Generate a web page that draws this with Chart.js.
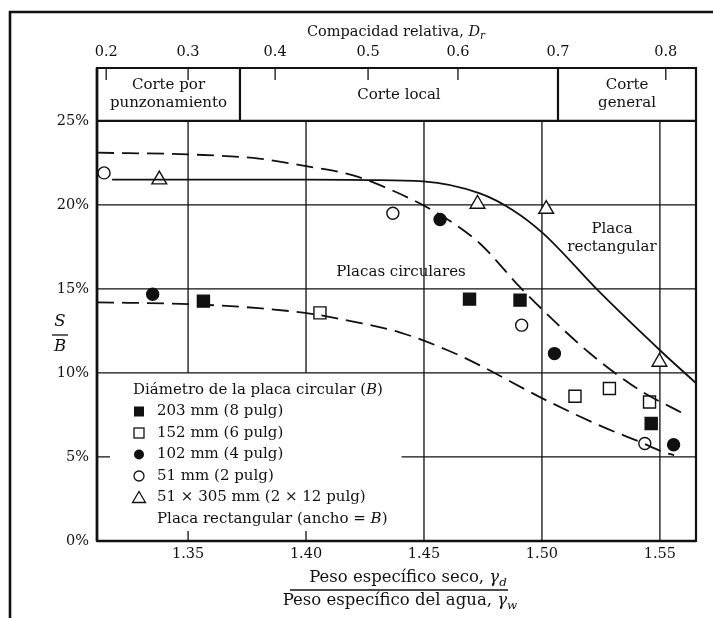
<!DOCTYPE html>
<html>
<head>
<meta charset="utf-8">
<script src="https://cdn.jsdelivr.net/npm/chart.js@4.4.1/dist/chart.umd.min.js"></script>
<style>
  html, body { margin:0; padding:0; background:#fff; }
  #wrap { width:713px; height:618px; }
</style>
</head>
<body>
<div id="wrap"><canvas id="chart" width="713" height="618"></canvas></div>
<script>
// ================= data =================
const xTicks = [1.35, 1.40, 1.45, 1.50, 1.55];
const yTicks = [0, 5, 10, 15, 20, 25];
const xMin = 1.3114, xMax = 1.5653, yMax = 28.14;

// relative density (top axis) and where each tick falls on the unit weight axis
const drLabels = ['0.2', '0.3', '0.4', '0.5', '0.6', '0.7', '0.8'];
const drAt = [1.3153, 1.3500, 1.3869, 1.4263, 1.4644, 1.5068, 1.5525];
const zoneBounds = [1.3720, 1.5068];

// markers
const sq203X = [1.3565, 1.4693, 1.4907, 1.5463];
const sq203Y = [14.27, 14.39, 14.33, 6.99];
const sq152X = [1.4059, 1.5140, 1.5286, 1.5456];
const sq152Y = [13.57, 8.61, 9.07, 8.27];
const ci102X = [1.3350, 1.4568, 1.5053, 1.5558];
const ci102Y = [14.68, 19.13, 11.15, 5.73];
const ci51X = [1.3144, 1.4368, 1.4914, 1.5436];
const ci51Y = [21.9, 19.5, 12.84, 5.8];
const triX = [1.3378, 1.4727, 1.5018, 1.5498];
const triY = [21.5, 20.05, 19.75, 10.65];

// curves
const upperX = [1.3114, 1.35, 1.38, 1.40, 1.42, 1.435, 1.45, 1.462, 1.4737, 1.4907, 1.5003, 1.5203, 1.5415, 1.5597];
const upperY = [23.1, 23.0, 22.75, 22.3, 21.75, 20.95, 19.95, 18.95, 17.7, 15.1, 13.75, 11.17, 8.97, 7.6];
const lowerX = [1.3114, 1.3508, 1.38, 1.403, 1.42, 1.44, 1.46, 1.4737, 1.50, 1.5258, 1.5415, 1.5513, 1.556];
const lowerY = [14.2, 14.09, 13.85, 13.5, 13.05, 12.4, 11.35, 10.45, 8.5, 6.79, 5.9, 5.3, 5.1];
const rectX = [1.3178, 1.40, 1.4271, 1.4497, 1.4737, 1.4877, 1.5005, 1.5245, 1.55, 1.5653];
const rectY = [21.5, 21.5, 21.47, 21.4, 20.68, 19.68, 18.3, 14.8, 11.35, 9.39];

const SERIF = '"DejaVu Serif", serif';
const INK = '#111';

const toPts = (xs, ys) => xs.map((x, i) => ({ x: x, y: ys[i] }));

function curve(xs, ys, dash) {
    return { data: toPts(xs, ys), showLine: true, borderColor: INK, borderWidth: 1.8, borderDash: dash,
             pointRadius: 0, cubicInterpolationMode: 'monotone', fill: false };
}
function marks(xs, ys, style, r, fillCol) {
    return { data: toPts(xs, ys), showLine: false, pointStyle: style, pointRadius: r,
             pointBackgroundColor: fillCol, pointBorderColor: INK, pointBorderWidth: 1.4 };
}

// draw a run of text pieces: [text, 'n' | 'i' | 'sub'] centred (or left aligned) at x
function runText(ctx, parts, x, y, size, align) {
    const fontOf = p => (p[1] === 'n' ? '' : 'italic ') + (p[1] === 'sub' ? size * 0.72 : size) + 'px ' + SERIF;
    const widths = parts.map(p => { ctx.font = fontOf(p); return ctx.measureText(p[0]).width; });
    const total = widths.reduce((a, b) => a + b, 0);
    let cx = align === 'left' ? x : x - total / 2;
    ctx.textBaseline = 'middle';
    ctx.textAlign = 'left';
    parts.forEach((p, i) => {
        ctx.font = fontOf(p);
        ctx.fillText(p[0], cx, p[1] === 'sub' ? y + size * 0.3 : y);
        cx += widths[i];
    });
    return total;
}

const decor = {
    id: 'decor',
    beforeDatasetsDraw(chart) {
        const ctx = chart.ctx, a = chart.chartArea;
        const sx = chart.scales.x, sy = chart.scales.y;
        const X = v => sx.getPixelForValue(v), Y = v => sy.getPixelForValue(v);
        ctx.save();
        ctx.strokeStyle = INK;
        ctx.lineWidth = 1.3;
        ctx.beginPath();
        // horizontal grid
        [10, 15, 20].forEach(v => { ctx.moveTo(a.left, Y(v)); ctx.lineTo(a.right, Y(v)); });
        ctx.moveTo(X(1.4405), Y(5)); ctx.lineTo(a.right, Y(5));
        ctx.moveTo(a.left, Y(5)); ctx.lineTo(a.left + 13, Y(5));
        // vertical grid (left two stop above the legend)
        [1.35, 1.40].forEach(v => {
            ctx.moveTo(X(v), Y(10)); ctx.lineTo(X(v), Y(25));
            ctx.moveTo(X(v), Y(0)); ctx.lineTo(X(v), Y(0) - 10);
        });
        [1.45, 1.50, 1.55].forEach(v => { ctx.moveTo(X(v), Y(0)); ctx.lineTo(X(v), Y(25)); });
        // Dr ticks hanging from the top edge
        drAt.forEach((v, i) => { if (drLabels[i] !== '0.7') { ctx.moveTo(X(v), a.top); ctx.lineTo(X(v), a.top + 12); } });
        ctx.stroke();

        // zone box and frame
        ctx.lineWidth = 2.2;
        ctx.beginPath();
        ctx.moveTo(a.left, Y(25)); ctx.lineTo(a.right, Y(25));
        zoneBounds.forEach(v => { ctx.moveTo(X(v), a.top); ctx.lineTo(X(v), Y(25)); });
        ctx.rect(a.left, a.top, a.right - a.left, a.bottom - a.top);
        ctx.stroke();
        ctx.lineWidth = 2.6;
        ctx.beginPath();
        ctx.moveTo(a.left, a.bottom); ctx.lineTo(a.right, a.bottom);
        ctx.moveTo(a.left, a.top); ctx.lineTo(a.left, a.bottom);
        ctx.stroke();
        ctx.restore();
    },
    afterDatasetsDraw(chart) {
        const ctx = chart.ctx, a = chart.chartArea;
        const sx = chart.scales.x, sy = chart.scales.y;
        const X = v => sx.getPixelForValue(v), Y = v => sy.getPixelForValue(v);
        ctx.save();
        ctx.fillStyle = INK;
        ctx.strokeStyle = INK;
        const fs = 15;

        // zone names
        const mid = (a.top + Y(25)) / 2;
        const zx = [(a.left + X(zoneBounds[0])) / 2, (X(zoneBounds[0]) + X(zoneBounds[1])) / 2, (X(zoneBounds[1]) + a.right) / 2];
        runText(ctx, [['Corte por', 'n']], zx[0], mid - 9, fs);
        runText(ctx, [['punzonamiento', 'n']], zx[0], mid + 9, fs);
        runText(ctx, [['Corte local', 'n']], zx[1], mid + 1, fs);
        runText(ctx, [['Corte', 'n']], zx[2], mid - 9, fs);
        runText(ctx, [['general', 'n']], zx[2], mid + 9, fs);

        // curve labels
        runText(ctx, [['Placas circulares', 'n']], 401, 272, fs);
        runText(ctx, [['Placa', 'n']], 612, 229, fs);
        runText(ctx, [['rectangular', 'n']], 612, 247, fs);

        // legend block
        runText(ctx, [['Diámetro de la placa circular (', 'n'], ['B', 'i'], [')', 'n']], 133, 390, fs, 'left');
        const rows = [411.5, 433, 454.5, 476, 497.5];
        const texts = ['203 mm (8 pulg)', '152 mm (6 pulg)', '102 mm (4 pulg)', '51 mm (2 pulg)', '51 × 305 mm (2 × 12 pulg)'];
        const sxp = 139;
        ctx.lineWidth = 1.3;
        rows.forEach((ry, i) => {
            ctx.beginPath();
            if (i === 0) { ctx.fillRect(sxp - 5, ry - 5, 10, 10); }
            else if (i === 1) { ctx.strokeRect(sxp - 5, ry - 5, 10, 10); }
            else if (i === 2) { ctx.arc(sxp, ry, 5, 0, Math.PI * 2); ctx.fill(); }
            else if (i === 3) { ctx.arc(sxp, ry, 5, 0, Math.PI * 2); ctx.stroke(); }
            else { ctx.moveTo(sxp, ry - 6); ctx.lineTo(sxp + 6.5, ry + 5); ctx.lineTo(sxp - 6.5, ry + 5); ctx.closePath(); ctx.stroke(); }
            runText(ctx, [[texts[i], 'n']], 157, ry, fs, 'left');
        });
        runText(ctx, [['Placa rectangular (ancho = ', 'n'], ['B', 'i'], [')', 'n']], 157, 519, fs, 'left');

        // axis titles
        runText(ctx, [['Compacidad relativa, ', 'n'], ['D', 'i'], ['r', 'sub']], 396, 32, 14.5);
        const bx = 400;
        runText(ctx, [['Peso específico seco, ', 'n'], ['γ', 'i'], ['d', 'sub']], bx + 8, 578, 16.5);
        runText(ctx, [['Peso específico del agua, ', 'n'], ['γ', 'i'], ['w', 'sub']], bx, 601, 16.5);
        ctx.lineWidth = 1.3;
        ctx.beginPath(); ctx.moveTo(bx - 110, 590); ctx.lineTo(bx + 108, 590); ctx.stroke();
        runText(ctx, [['S', 'i']], 60, 322, 16.5);
        runText(ctx, [['B', 'i']], 60, 347, 16.5);
        ctx.beginPath(); ctx.moveTo(52, 335); ctx.lineTo(68, 335); ctx.stroke();

        // page border of the scan
        ctx.lineWidth = 2.6;
        ctx.beginPath();
        ctx.moveTo(10, 618); ctx.lineTo(10, 12); ctx.lineTo(713, 12);
        ctx.stroke();
        ctx.restore();
    }
};

const tickFont = { family: SERIF, size: 14.5 };

new Chart(document.getElementById('chart'), {
    type: 'scatter',
    data: {
        datasets: [
            curve(upperX, upperY, [17, 8]),
            curve(lowerX, lowerY, [17, 8]),
            curve(rectX, rectY, []),
            marks(sq203X, sq203Y, 'rect', 8.5, INK),
            marks(sq152X, sq152Y, 'rect', 8.5, '#fff'),
            marks(ci102X, ci102Y, 'circle', 6, INK),
            marks(ci51X, ci51Y, 'circle', 6, '#fff'),
            marks(triX, triY, 'triangle', 8.5, '#fff')
        ]
    },
    options: {
        responsive: false,
        animation: false,
        layout: { padding: { left: 0, right: 17, top: 0, bottom: 0 } },
        plugins: { legend: { display: false }, tooltip: { enabled: false } },
        scales: {
            x: {
                type: 'linear', position: 'bottom', min: xMin, max: xMax,
                grid: { display: false, drawTicks: false }, border: { display: false },
                afterBuildTicks: s => { s.ticks = xTicks.map(v => ({ value: v })); },
                ticks: { callback: v => v.toFixed(2), font: tickFont, color: INK, padding: 5, maxRotation: 0, autoSkip: false },
                afterFit: s => { s.height = 77; }
            },
            x2: {
                type: 'linear', position: 'top', display: true, min: xMin, max: xMax,
                grid: { display: false, drawTicks: false }, border: { display: false },
                afterBuildTicks: s => { s.ticks = drAt.map(v => ({ value: v })); },
                ticks: { callback: (v, i) => drLabels[i], font: tickFont, color: INK, padding: 7, maxRotation: 0, autoSkip: false },
                afterFit: s => { s.height = 68; }
            },
            y: {
                type: 'linear', min: 0, max: yMax,
                grid: { display: false, drawTicks: false }, border: { display: false },
                afterBuildTicks: s => { s.ticks = yTicks.map(v => ({ value: v })); },
                ticks: { callback: v => v + '%', font: tickFont, color: INK, padding: 8, autoSkip: false },
                afterFit: s => { s.width = 97; }
            }
        }
    },
    plugins: [decor]
});
</script>
</body>
</html>
